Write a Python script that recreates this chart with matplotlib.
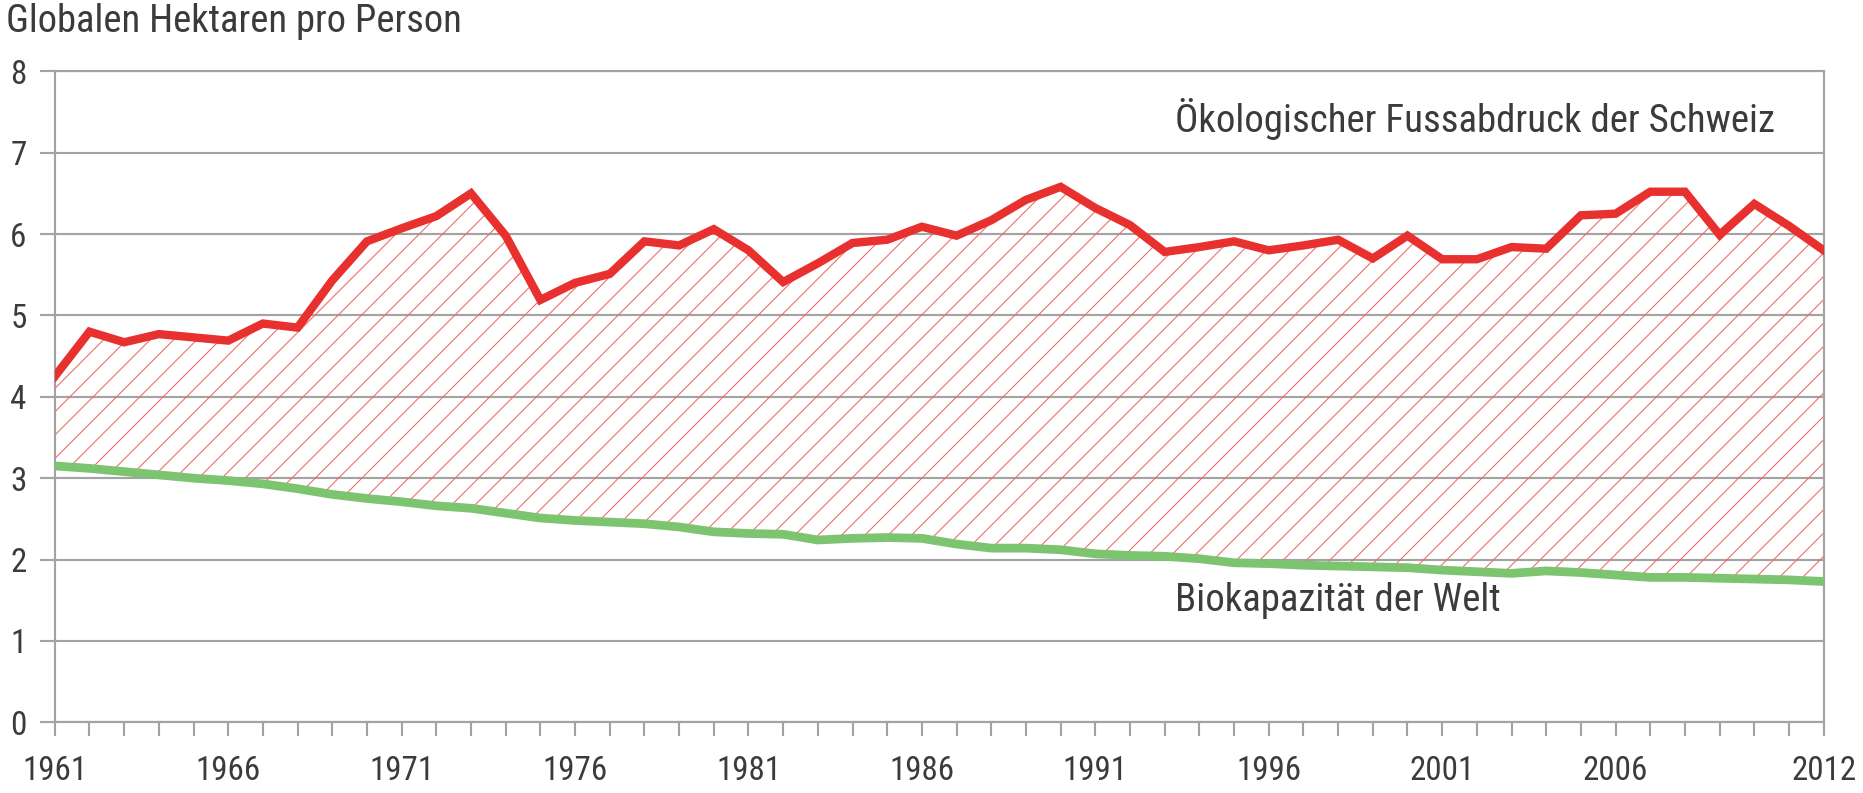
import numpy as np
import matplotlib
matplotlib.use("Agg")
import matplotlib.pyplot as plt

# Jahre und Werte (globale Hektaren pro Person)
years = list(range(1961, 2013))

fussabdruck_ch = [
    4.25, 4.80, 4.67, 4.77, 4.73, 4.69, 4.90, 4.85, 5.43, 5.91,
    6.07, 6.22, 6.50, 5.98, 5.19, 5.40, 5.51, 5.91, 5.86, 6.06,
    5.80, 5.41, 5.64, 5.89, 5.93, 6.09, 5.98, 6.17, 6.42, 6.58,
    6.32, 6.11, 5.78, 5.84, 5.91, 5.80, 5.86, 5.93, 5.70, 5.98,
    5.69, 5.69, 5.84, 5.82, 6.23, 6.25, 6.52, 6.52, 5.99, 6.37,
    6.10, 5.80,
]

biokapazitaet_welt = [
    3.15, 3.12, 3.08, 3.04, 3.00, 2.97, 2.93, 2.87, 2.80, 2.75,
    2.71, 2.66, 2.63, 2.57, 2.51, 2.48, 2.46, 2.44, 2.40, 2.34,
    2.32, 2.31, 2.24, 2.26, 2.27, 2.26, 2.19, 2.14, 2.14, 2.12,
    2.07, 2.05, 2.04, 2.01, 1.96, 1.95, 1.93, 1.92, 1.91, 1.90,
    1.87, 1.85, 1.83, 1.86, 1.84, 1.81, 1.78, 1.78, 1.77, 1.76,
    1.75, 1.73,
]

label_years = [1961, 1966, 1971, 1976, 1981, 1986, 1991, 1996, 2001, 2006, 2012]
y_ticks = [0, 1, 2, 3, 4, 5, 6, 7, 8]

title = "Globalen Hektaren pro Person"
label_ch = "Ökologischer Fussabdruck der Schweiz"
label_welt = "Biokapazität der Welt"

red = "#e8302e"
green = "#7cc46f"
grid_gray = "#a3a3a3"
text_gray = "#3b3b3b"

plt.rcParams["font.family"] = ["Roboto Condensed", "Liberation Sans Narrow", "Roboto", "DejaVu Sans"]
plt.rcParams["hatch.linewidth"] = 0.55

DPI = 140
fig = plt.figure(figsize=(1863 / DPI, 793 / DPI), dpi=DPI)
ax = fig.add_axes([0.0294, 0.0892, 0.9495, 0.8209])

ax.set_xlim(1961, 2012)
ax.set_ylim(0, 8)

# Schraffur zwischen Fussabdruck und Biokapazität
ax.fill_between(years, biokapazitaet_welt, fussabdruck_ch, facecolor="none",
                edgecolor="#f06a66", hatch="//", linewidth=0, zorder=2)

ax.plot(years, biokapazitaet_welt, color=green, lw=4.5, solid_capstyle="butt", zorder=3)
ax.plot(years, fussabdruck_ch, color=red, lw=4.3, solid_joinstyle="miter", zorder=4)

# Gitter und Rahmen
ax.set_yticks(y_ticks)
ax.set_yticklabels([str(v) for v in y_ticks])
ax.yaxis.grid(True, color=grid_gray, lw=1.1, zorder=1)
ax.set_axisbelow(True)
for s in ax.spines.values():
    s.set_color(grid_gray)
    s.set_linewidth(1.1)

ax.set_xticks(years)
ax.set_xticklabels([str(y) if y in label_years else "" for y in years])

ax.tick_params(axis="both", colors=grid_gray, width=1.1, labelcolor=text_gray,
               labelsize=17)
ax.tick_params(axis="x", length=7, pad=10)
ax.tick_params(axis="y", length=7.5, pad=7)

ax.text(1993.3, 7.41, label_ch, ha="left", va="center", fontsize=20, color=text_gray)
ax.text(1993.3, 1.50, label_welt, ha="left", va="center", fontsize=20, color=text_gray)

fig.text(0.003, 0.973, title, ha="left", va="center", fontsize=19.9, color=text_gray)

fig.savefig("out.png", dpi=DPI)
